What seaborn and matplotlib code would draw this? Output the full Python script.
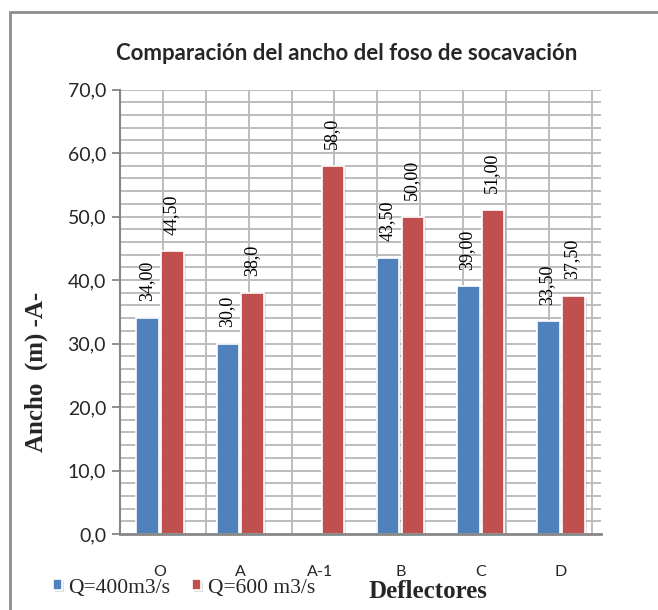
import numpy as np
import pandas as pd
import matplotlib
matplotlib.use("Agg")
import matplotlib.pyplot as plt
import matplotlib.patheffects as pe
from matplotlib.patches import Rectangle
import seaborn as sns

# ---- data ----
categories = ["O", "A", "A-1", "B", "C", "D"]
q400 = [34.0, 30.0, np.nan, 43.5, 39.0, 33.5]
q600 = [44.5, 38.0, 58.0, 50.0, 51.0, 37.5]
q400_labels = ["34,00", "30,0", "", "43,50", "39,00", "33,50"]
q600_labels = ["44,50", "38,0", "58,0", "50,00", "51,00", "37,50"]
series_names = ["Q=400m3/s", "Q=600 m3/s"]
yticks = [0, 10, 20, 30, 40, 50, 60, 70]
ytick_labels = ["0,0", "10,0", "20,0", "30,0", "40,0", "50,0", "60,0", "70,0"]

df = pd.DataFrame({
    "cat": categories * 2,
    "val": q400 + q600,
    "serie": [series_names[0]] * 6 + [series_names[1]] * 6,
})

sns.set_style("white")
SANS = ["Lato", "DejaVu Sans"]
SERIF = ["Liberation Serif", "DejaVu Serif"]

W, H = 658, 610
fig = plt.figure(figsize=(W / 100, H / 100), dpi=100)
ax = fig.add_axes([120 / W, 1 - 534 / H, (601 - 120) / W, (534 - 89.5) / H])

colors = ["#4F81BD", "#C0504D"]
sns.barplot(data=df, x="cat", y="val", hue="serie", order=categories,
            hue_order=series_names, palette=colors, width=0.62, gap=0.1,
            edgecolor="white", linewidth=1.2, errorbar=None, ax=ax,
            saturation=1, zorder=3)

ax.set_xlim(-0.5, 5.5)
ax.set_ylim(0, 70)

# grid
grid_c = "#BDBDBD"
for y in np.arange(2, 70.1, 2):
    ax.axhline(y, color=grid_c, lw=1.4, zorder=1)
step = 42.9 / 481 * 6
for k in range(1, 12):
    ax.axvline(-0.5 + k * step, color=grid_c, lw=1.4, zorder=1)

# shadows on bars
for p in ax.patches:
    p.set_path_effects([pe.SimplePatchShadow(offset=(1.5, -1.5), alpha=0.25, shadow_rgbFace="#808080"),
                        pe.Normal()])

# data labels
label_sets = [q400_labels, q600_labels]
for cont, labels in zip(ax.containers, label_sets):
    for bar in cont:
        h = bar.get_height()
        if not np.isfinite(h) or h == 0:
            continue
        xc = bar.get_x() + bar.get_width() / 2
        idx = int(round(xc))
        ax.annotate(labels[idx], (xc, h), xytext=(-1, 12), textcoords="offset points",
                    rotation=90, ha="center", va="bottom", fontsize=13,
                    family=SERIF, color="black", zorder=4)

# axes styling
for s in ["top", "right"]:
    ax.spines[s].set_visible(False)
ax.spines["left"].set_color("#868686")
ax.spines["left"].set_linewidth(1.5)
ax.spines["bottom"].set_color("#868686")
ax.spines["bottom"].set_linewidth(2)
ax.spines["left"].set_zorder(5)
ax.spines["bottom"].set_zorder(5)

ax.set_yticks(yticks)
ax.set_yticklabels(ytick_labels, family=SANS, fontsize=14)
ax.tick_params(axis="y", direction="out", length=6, width=1.3, color="#868686", pad=4, left=True)
ax.set_xticks(range(len(categories)))
ax.set_xticklabels(categories, family=SANS, fontsize=11.5)
ax.tick_params(axis="x", length=0, pad=22)
ax.set_xlabel("")
ax.set_ylabel("")

# legend
handles, labs = ax.get_legend_handles_labels()
if ax.get_legend() is not None:
    ax.get_legend().remove()
fig.legend(handles, labs, loc="center left", bbox_to_anchor=(53 / W, 1 - 588 / H),
           ncol=2, frameon=False, prop={"family": SERIF, "size": 15.5},
           handlelength=0.42, handleheight=0.42, handletextpad=0.3,
           columnspacing=1.0, borderpad=0, borderaxespad=0)

# texts
fig.text(347 / W, 1 - 54 / H, "Comparación del ancho del foso de socavación",
         ha="center", va="center", fontsize=16, fontweight="bold", family=SANS)
fig.text(36 / W, 1 - 372 / H, "Ancho  (m) -A-", rotation=90, ha="center", va="center",
         fontsize=18, fontweight="bold", family=SERIF)
fig.text(428 / W, 1 - 591 / H, "Deflectores", ha="center", va="center",
         fontsize=18, fontweight="bold", family=SERIF)

# outer frame
fig.patches.append(Rectangle((10 / W, -0.5), 2.0, 0.5 + (1 - 12 / H), transform=fig.transFigure,
                             fill=False, edgecolor="#8C8C8C", lw=2, zorder=0))

fig.savefig("out.png", dpi=100)
